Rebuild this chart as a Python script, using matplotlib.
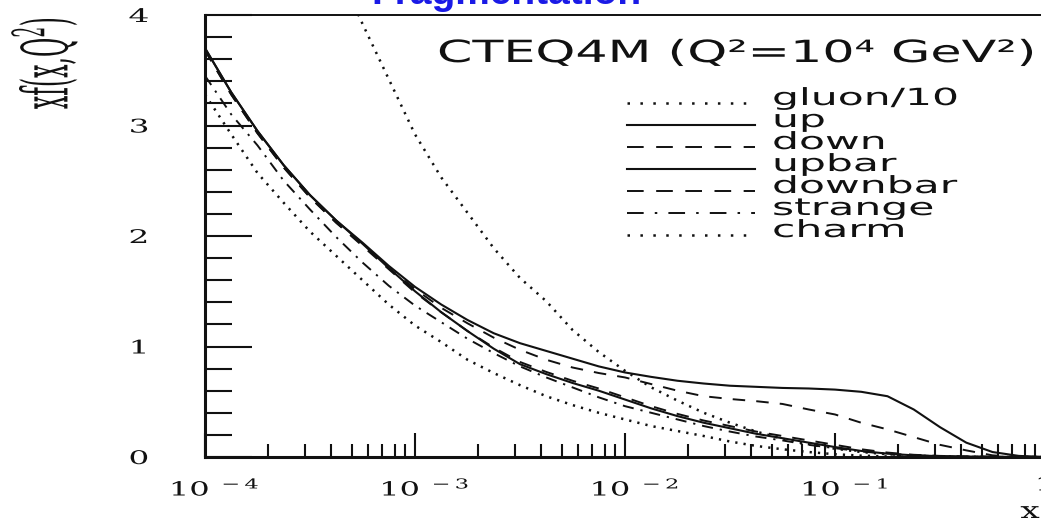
import numpy as np
import matplotlib
matplotlib.use("Agg")
import matplotlib.pyplot as plt
from matplotlib.lines import Line2D
from matplotlib.patheffects import AbstractPathEffect
from matplotlib.transforms import Affine2D
from matplotlib.ticker import FixedLocator, LogLocator, MultipleLocator, NullFormatter

plt.rcParams["lines.scale_dashes"] = False
plt.rcParams["mathtext.fontset"] = "dejavuserif"

# ---- parton distributions x f(x, Q^2) at Q^2 = 1e4 GeV^2 (CTEQ4M) ----
log10_x = [-4.0, -3.875, -3.75, -3.625, -3.5, -3.375, -3.25, -3.125, -3.0,
           -2.875, -2.75, -2.625, -2.5, -2.375, -2.25, -2.125, -2.0,
           -1.875, -1.75, -1.625, -1.5, -1.375, -1.25, -1.125, -1.0,
           -0.875, -0.75, -0.625, -0.5, -0.375, -0.25, -0.125, 0.0]

gluon_log10_x = log10_x[4:]
gluon_div10 = [5.05, 4.45, 3.92, 3.42, 2.92, 2.53, 2.21, 1.89, 1.62, 1.41,
               1.15, 0.95, 0.78, 0.63, 0.51, 0.40, 0.31, 0.23, 0.165, 0.115,
               0.075, 0.045, 0.025, 0.012, 0.005, 0.002, 0.0, 0.0, 0.0]

up = [3.70, 3.30, 2.95, 2.64, 2.37, 2.14, 1.94, 1.73, 1.54, 1.38, 1.24,
      1.12, 1.03, 0.96, 0.89, 0.82, 0.765, 0.725, 0.69, 0.665, 0.645,
      0.635, 0.625, 0.62, 0.61, 0.59, 0.55, 0.43, 0.27, 0.13, 0.045, 0.01, 0.0]

down = [3.68, 3.28, 2.93, 2.62, 2.35, 2.12, 1.92, 1.71, 1.52, 1.35, 1.21,
        1.08, 0.97, 0.88, 0.81, 0.76, 0.72, 0.66, 0.60, 0.55, 0.525,
        0.505, 0.48, 0.43, 0.385, 0.31, 0.25, 0.18, 0.11, 0.06, 0.015, 0.0, 0.0]

upbar = [3.70, 3.30, 2.95, 2.64, 2.37, 2.14, 1.93, 1.71, 1.50, 1.31, 1.14,
         0.98, 0.84, 0.75, 0.67, 0.60, 0.52, 0.44, 0.37, 0.31, 0.26,
         0.21, 0.17, 0.13, 0.09, 0.055, 0.03, 0.015, 0.008, 0.004, 0.002, 0.0, 0.0]

downbar = [3.68, 3.28, 2.93, 2.62, 2.35, 2.12, 1.91, 1.70, 1.49, 1.31, 1.14,
           0.99, 0.86, 0.77, 0.69, 0.62, 0.54, 0.46, 0.39, 0.33, 0.28,
           0.23, 0.19, 0.15, 0.11, 0.07, 0.04, 0.02, 0.01, 0.005, 0.002, 0.0, 0.0]

strange = [3.45, 3.10, 2.82, 2.50, 2.24, 1.99, 1.76, 1.55, 1.37, 1.22, 1.07,
           0.94, 0.82, 0.72, 0.63, 0.54, 0.46, 0.40, 0.34, 0.28, 0.23,
           0.185, 0.15, 0.11, 0.08, 0.05, 0.03, 0.015, 0.007, 0.003, 0.0, 0.0, 0.0]

charm = [3.28, 2.92, 2.57, 2.30, 2.04, 1.82, 1.60, 1.38, 1.19, 1.04, 0.88,
         0.76, 0.65, 0.55, 0.47, 0.40, 0.34, 0.28, 0.235, 0.19, 0.14,
         0.10, 0.07, 0.045, 0.025, 0.012, 0.005, 0.002, 0.0, 0.0, 0.0, 0.0, 0.0]

legend_labels = ["gluon/10", "up", "down", "upbar", "downbar", "strange", "charm"]
x_tick_values = [1e-4, 1e-3, 1e-2, 1e-1, 1.0]
x_tick_labels = [r"$10^{\,\,-4}$", r"$10^{\,\,-3}$", r"$10^{\,\,-2}$",
                 r"$10^{\,\,-1}$", "1"]
y_tick_labels = ["0", "1", "2", "3", "4"]


class Stretch(AbstractPathEffect):
    """Scale glyph outlines about the text's anchor point (wide lettering)."""

    def __init__(self, text, sx=1.0, sy=1.0, dx=0.0, dy=0.0):
        super().__init__()
        self.text, self.sx, self.sy, self.dx, self.dy = text, sx, sy, dx, dy

    def draw_path(self, renderer, gc, tpath, affine, rgbFace=None):
        x0, y0 = self.text.get_transform().transform(self.text.get_position())
        extra = (Affine2D().translate(-x0, -y0).scale(self.sx, self.sy)
                 .translate(x0 + self.dx, y0 + self.dy))
        renderer.draw_path(gc, tpath, affine + extra, rgbFace)


def widen(text, sx, dx=0.0, dy=0.0):
    text.set_path_effects([Stretch(text, sx=sx, dx=dx, dy=dy)])
    return text


# ---- line styles ----
INK = "#111111"
dotted = (0, (1.6, 4.4))
dashed = (0, (9.0, 8.0))
dashdot = (0, (8.0, 5.0, 1.6, 5.0))
solid = "-"

x = 10.0 ** np.array(log10_x)
xg = 10.0 ** np.array(gluon_log10_x)

series = [
    (xg, gluon_div10, dotted, 1.8),
    (x, up, solid, 1.5),
    (x, down, dashed, 1.4),
    (x, upbar, solid, 1.5),
    (x, downbar, dashed, 1.4),
    (x, strange, dashdot, 1.4),
    (x, charm, dotted, 1.8),
]
legend_styles = [(0, (1.8, 7.5)), solid, (0, (12.0, 9.0)), solid,
                 (0, (12.0, 9.0)), (0, (12.0, 8.0, 1.8, 8.0)), (0, (1.8, 7.5))]

W, H = 1041, 523
fig = plt.figure(figsize=(W / 100, H / 100), dpi=100)
ax = fig.add_axes([205 / W, (H - 457) / H, 840 / W, 442 / H])

for xs, ys, ls, lw in series:
    ax.plot(xs, ys, color=INK, linestyle=ls, linewidth=lw)

ax.set_xscale("log")
ax.set_xlim(1e-4, 1.0)
ax.set_ylim(0, 4)

ax.xaxis.set_major_locator(FixedLocator(x_tick_values))
ax.xaxis.set_minor_locator(LogLocator(base=10, subs=np.arange(2, 10)))
ax.xaxis.set_minor_formatter(NullFormatter())
ax.set_xticklabels(x_tick_labels)
ax.yaxis.set_minor_locator(MultipleLocator(0.2))
ax.set_yticks([0, 1, 2, 3, 4])
ax.set_yticklabels(y_tick_labels)

ax.tick_params(axis="x", which="major", direction="in", length=17, width=1.5,
               pad=14, labelsize=14, colors=INK)
ax.tick_params(axis="x", which="minor", direction="in", length=9.5, width=1.5,
               colors=INK)
ax.tick_params(axis="y", which="major", direction="in", length=34, width=1.5,
               pad=40, labelsize=13.5, colors=INK)
ax.tick_params(axis="y", which="minor", direction="in", length=19.5, width=1.5,
               colors=INK)

ax.spines["left"].set_linewidth(2.2)
ax.spines["bottom"].set_linewidth(2.2)
ax.spines["top"].set_linewidth(1.4)
ax.spines["right"].set_visible(False)
for s in ax.spines.values():
    s.set_color(INK)

# ---- legend drawn inside the frame ----
row_y = [103, 125, 147, 169, 191, 213, 235]
for (xs, ys, ls, lw), lstyle, label, py in zip(series, legend_styles,
                                               legend_labels, row_y):
    yy = (457 - py) / 442
    ax.add_line(Line2D([(627 - 205) / 840, (755 - 205) / 840], [yy, yy],
                       transform=ax.transAxes, color=INK, linestyle=lstyle,
                       linewidth=lw, clip_on=False))
    t = ax.text((772 - 205) / 840, yy - 2 / 442, label, transform=ax.transAxes,
                family="DejaVu Sans", fontsize=17, color=INK, va="baseline",
                ha="left")
    widen(t, 1.8)

t = ax.text((1035 - 205) / 840, (457 - 62) / 442,
            "CTEQ4M (Q\u00b2=10\u2074 GeV\u00b2)", transform=ax.transAxes,
            family="DejaVu Sans", fontsize=22, color=INK, va="baseline",
            ha="right")
widen(t, 1.66)

# ---- axis titles ----
t = fig.text(44 / W, 1 - 63 / H, r"xf(x,Q$^2$)", rotation=90, ha="center",
             va="center", family="DejaVu Serif", fontsize=17, color=INK)
widen(t, 2.7)
t = fig.text(1030 / W, 1 - 512 / H, "x", ha="center", va="center",
             family="DejaVu Serif", fontsize=16.5, color=INK)
widen(t, 1.5)

# ---- slide heading (runs off the top edge) ----
fig.text(642 / W, 1 - 4 / H, "Fragmentation", ha="right", va="baseline",
         family="Liberation Sans", fontweight="bold", fontsize=28,
         color="#1a1ae6")

# tick labels get the same wide lettering
fig.canvas.draw()
xlabs = ax.get_xticklabels()
for i, lab in enumerate(xlabs):
    lab.set_family("DejaVu Serif")
    widen(lab, 1.65, dx=(10 if i < len(xlabs) - 1 else 0))
for lab in ax.get_yticklabels():
    lab.set_family("DejaVu Serif")
    widen(lab, 1.75)

fig.savefig("out.png", dpi=100)
